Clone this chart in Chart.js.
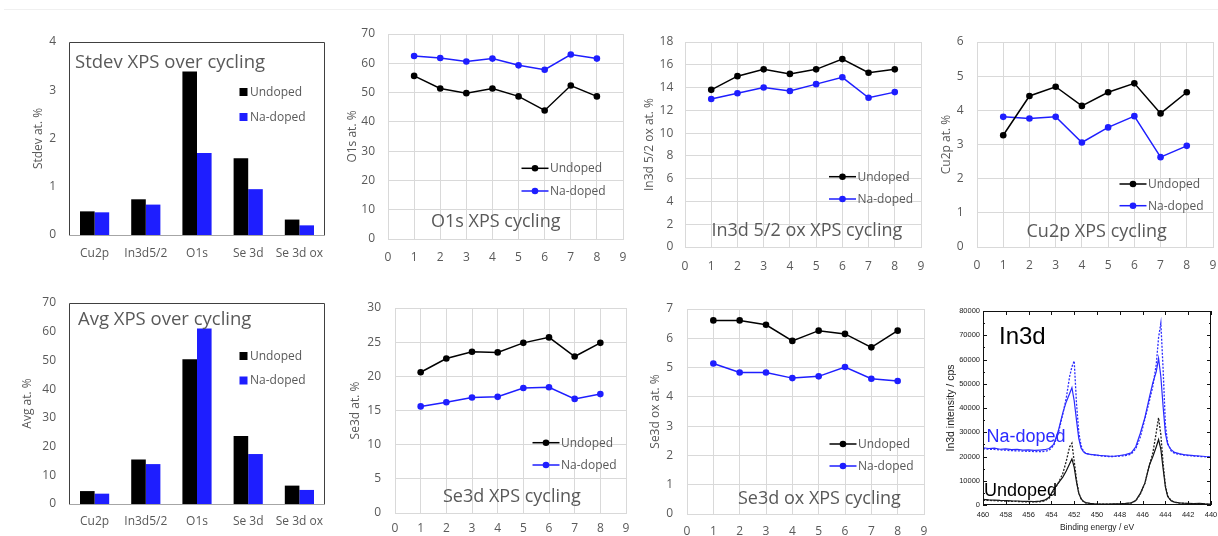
<!DOCTYPE html>
<html>
<head>
<meta charset="utf-8">
<script src="https://cdn.jsdelivr.net/npm/chart.js@4.4.1/dist/chart.umd.min.js"></script>
<style>
  html, body { margin: 0; padding: 0; background: #fff; width: 1218px; height: 536px; overflow: hidden; position: relative; }
  canvas { position: absolute; }
  #topRule { position: absolute; left: 4px; top: 9px; width: 1214px; height: 1px; background: #f0f0f0; }
</style>
</head>
<body>
<div id="topRule"></div>
<canvas id="cStdev"></canvas>
<canvas id="cAvg"></canvas>
<canvas id="cO1s"></canvas>
<canvas id="cIn3d"></canvas>
<canvas id="cCu2p"></canvas>
<canvas id="cSe3d"></canvas>
<canvas id="cSe3dOx"></canvas>
<canvas id="cSpec"></canvas>
<script>
// ---- summary over cycling ----
const elements = ['Cu2p', 'In3d5/2', 'O1s', 'Se 3d', 'Se 3d ox'];
const stdevUndoped = [0.49, 0.74, 3.39, 1.59, 0.32];
const stdevNaDoped = [0.47, 0.63, 1.70, 0.95, 0.20];
const avgUndoped = [4.5, 15.5, 50.4, 23.7, 6.4];
const avgNaDoped = [3.6, 13.9, 61.1, 17.4, 4.9];

// ---- per-cycle atomic percentages ----
const cycles = [1, 2, 3, 4, 5, 6, 7, 8];
const o1sUndoped = [55.7, 51.4, 49.8, 51.4, 48.7, 43.9, 52.4, 48.7];
const o1sNaDoped = [62.5, 61.8, 60.6, 61.6, 59.3, 57.8, 63.0, 61.6];
const in3dUndoped = [13.8, 15.0, 15.6, 15.2, 15.6, 16.5, 15.3, 15.6];
const in3dNaDoped = [13.0, 13.5, 14.0, 13.7, 14.3, 14.9, 13.1, 13.6];
const cu2pUndoped = [3.27, 4.42, 4.69, 4.13, 4.53, 4.79, 3.91, 4.53];
const cu2pNaDoped = [3.81, 3.76, 3.81, 3.06, 3.50, 3.83, 2.63, 2.96];
const se3dUndoped = [20.6, 22.6, 23.6, 23.5, 24.9, 25.7, 22.9, 24.9];
const se3dNaDoped = [15.6, 16.2, 16.9, 17.0, 18.3, 18.4, 16.7, 17.4];
const se3dOxUndoped = [6.61, 6.61, 6.46, 5.91, 6.26, 6.15, 5.69, 6.26];
const se3dOxNaDoped = [5.14, 4.83, 4.83, 4.64, 4.70, 5.02, 4.62, 4.54];

// ---- In3d spectra (binding energy in eV, intensity in cps) ----
const bindingEnergy = [460, 459.5, 459, 458.5, 458, 457.5, 457, 456.5, 456, 455.5,
  455, 454.6, 454.2, 453.8, 453.4, 453.0, 452.7, 452.4, 452.2, 452.0,
  451.8, 451.6, 451.4, 451.2, 451.0, 450.6, 450.2, 449.8, 449.4, 449.0,
  448.5, 448.0, 447.5, 447.0, 446.6, 446.2, 445.8, 445.4, 445.1, 444.8,
  444.6, 444.4, 444.2, 444.0, 443.8, 443.5, 443.2, 442.8, 442.4, 442.0,
  441.5, 441.0, 440.5, 440.0];
const naDopedSolid = [23600, 23300, 23450, 23000, 23150, 22800, 22950, 22600, 22750, 22500,
  22650, 22800, 23300, 25000, 30500, 38000, 42500, 46000, 48400, 43000,
  35000, 27500, 23500, 22000, 21300, 20900, 20700, 20450, 20300, 20150,
  20100, 20400, 20800, 21500, 24000, 29600, 36000, 44500, 50500, 55000,
  60500, 53000, 40500, 29500, 25000, 22800, 21700, 21200, 20800, 20600,
  20350, 20200, 20000, 19900];
const naDopedDashed = [23200, 23000, 22900, 22700, 22600, 22400, 22350, 22200, 22150, 22050,
  22000, 22100, 22600, 24500, 29500, 37500, 44000, 53000, 57000, 59400,
  42000, 30000, 24500, 22300, 21300, 20900, 20600, 20350, 20150, 20000,
  20000, 20150, 20400, 21000, 23200, 28000, 35500, 43000, 49000, 58000,
  69000, 75000, 56000, 33000, 25500, 22300, 21300, 20900, 20600, 20400,
  20200, 20000, 19900, 19800];
const undopedSolid = [2300, 2100, 2050, 1900, 1850, 1700, 1650, 1500, 1550, 1400,
  1600, 2000, 3200, 6500, 9000, 11500, 14000, 17000, 19000, 15500,
  9500, 4800, 2600, 1500, 1000, 700, 500, 400, 350, 400,
  450, 500, 650, 900, 1800, 4800, 9000, 16500, 20000, 24000,
  27000, 23000, 15000, 7500, 3500, 1800, 1200, 900, 750, 650,
  550, 650, 450, 350];
const undopedDashed = [2000, 1900, 1800, 1700, 1600, 1500, 1450, 1350, 1300, 1250,
  1350, 1700, 2800, 6000, 9000, 13000, 18000, 24000, 25500, 18000,
  10500, 5000, 2600, 1400, 900, 550, 400, 300, 300, 300,
  350, 400, 550, 800, 1700, 4500, 9000, 16500, 21500, 30000,
  36000, 29000, 17000, 8000, 3800, 1800, 1100, 800, 650, 550,
  500, 550, 400, 300];

// ---- styling ----
const FONT = '"Open Sans", "Noto Sans", sans-serif';
const ARIAL = '"Liberation Sans", Arial, sans-serif';
const NARROW = '"Liberation Sans Narrow", "Liberation Sans", Arial, sans-serif';
const GRAY = '#595959';
const GRID = '#d9d9d9';
const BLACK = '#000000';
const BLUE = '#1e1eff';
const SPEC_BLUE = '#2b2bff';

Chart.defaults.font.family = FONT;
Chart.defaults.color = GRAY;
Chart.defaults.animation = false;

// page-space layout of each panel: canvas box and plot area
const panels = {
  stdev:  { box: { L: 0,   T: 30,  R: 335,  B: 270 }, plot: { l: 69,  t: 42,  r: 325,  b: 235 }, yTitleX: 38.5 },
  avg:    { box: { L: 0,   T: 290, R: 335,  B: 536 }, plot: { l: 69,  t: 303, r: 325,  b: 504 }, yTitleX: 28 },
  o1s:    { box: { L: 335, T: 20,  R: 630,  B: 275 }, plot: { l: 388, t: 34,  r: 623,  b: 239 }, yTitleX: 353 },
  in3d:   { box: { L: 630, T: 20,  R: 928,  B: 275 }, plot: { l: 685, t: 42,  r: 921,  b: 247 }, yTitleX: 649.5 },
  cu2p:   { box: { L: 928, T: 20,  R: 1218, B: 275 }, plot: { l: 977, t: 42,  r: 1213, b: 247 }, yTitleX: 946.5 },
  se3d:   { box: { L: 335, T: 290, R: 630,  B: 536 }, plot: { l: 395, t: 308, r: 626,  b: 513 }, yTitleX: 355.5 },
  se3dOx: { box: { L: 630, T: 290, R: 935,  B: 536 }, plot: { l: 687, t: 309, r: 924,  b: 514 }, yTitleX: 655.5 },
  spec:   { box: { L: 935, T: 290, R: 1218, B: 536 }, plot: { l: 983, t: 311, r: 1211, b: 505 }, yTitleX: 951 }
};

function zeroPad(s) { s.paddingLeft = 0; s.paddingRight = 0; s.paddingTop = 0; s.paddingBottom = 0; }

function mount(id, panel, config, yTitleSize) {
  const { box, plot } = panel;
  const cv = document.getElementById(id);
  cv.width = box.R - box.L;
  cv.height = box.B - box.T;
  cv.style.left = box.L + 'px';
  cv.style.top = box.T + 'px';
  const yW = plot.l - box.L;
  const xH = box.B - plot.b;
  config.options.responsive = false;
  config.options.maintainAspectRatio = false;
  config.options.devicePixelRatio = 1;
  config.options.layout = { padding: { left: 0, top: plot.t - box.T, right: box.R - plot.r, bottom: 0 } };
  const sx = config.options.scales.x, sy = config.options.scales.y;
  sx.afterFit = s => { s.height = xH; zeroPad(s); };
  sy.afterFit = s => { s.width = yW; zeroPad(s); };
  const lh = yTitleSize * 1.2;
  sy.title.padding = { top: panel.yTitleX - box.L - lh / 2, bottom: 0 };
  return new Chart(cv, config);
}

// text drawn at page coordinates inside a panel's canvas
function textLayer(box, items) {
  return {
    id: 'textLayer',
    afterDatasetsDraw(chart) {
      const ctx = chart.ctx;
      ctx.save();
      ctx.textAlign = 'left';
      ctx.textBaseline = 'alphabetic';
      items.forEach(it => {
        ctx.font = it.font;
        ctx.fillStyle = it.color;
        ctx.fillText(it.text, it.x - box.L, it.y - box.T);
      });
      ctx.restore();
    }
  };
}

// legend placed inside the plot area
function innerLegend(box, cfg) {
  return {
    id: 'innerLegend',
    afterDatasetsDraw(chart) {
      const ctx = chart.ctx;
      ctx.save();
      chart.data.datasets.forEach((ds, i) => {
        const y = cfg.rows[i] - box.T;
        if (cfg.kind === 'box') {
          ctx.fillStyle = ds.backgroundColor;
          ctx.fillRect(cfg.x0 - box.L, y - 4, 8, 8);
        } else {
          const x0 = cfg.x0 - box.L, x1 = cfg.x1 - box.L;
          ctx.strokeStyle = ds.borderColor;
          ctx.lineWidth = ds.borderWidth;
          ctx.beginPath();
          ctx.moveTo(x0, y);
          ctx.lineTo(x1, y);
          ctx.stroke();
          ctx.fillStyle = ds.borderColor;
          ctx.beginPath();
          ctx.arc((x0 + x1) / 2, y, ds.pointRadius, 0, Math.PI * 2);
          ctx.fill();
        }
        ctx.font = '12px ' + FONT;
        ctx.fillStyle = GRAY;
        ctx.textAlign = 'left';
        ctx.textBaseline = 'middle';
        ctx.fillText(ds.label, cfg.textX - box.L, y + 0.5);
      });
      ctx.restore();
    }
  };
}

// outline of the bar chart plot area
const barFrame = {
  id: 'barFrame',
  afterDatasetsDraw(chart) {
    const { left, top, right, bottom } = chart.chartArea;
    const ctx = chart.ctx;
    ctx.save();
    ctx.lineWidth = 1;
    ctx.strokeStyle = '#404040';
    ctx.beginPath();
    ctx.moveTo(left + 0.5, bottom);
    ctx.lineTo(left + 0.5, top + 0.5);
    ctx.lineTo(right - 0.5, top + 0.5);
    ctx.lineTo(right - 0.5, bottom);
    ctx.stroke();
    ctx.strokeStyle = '#a6a6a6';
    ctx.beginPath();
    ctx.moveTo(left, bottom + 0.5);
    ctx.lineTo(right, bottom + 0.5);
    ctx.stroke();
    ctx.restore();
  }
};

// boxed frame with inward ticks for the spectrum
const specFrame = {
  id: 'specFrame',
  afterDatasetsDraw(chart) {
    const { left, top, right, bottom } = chart.chartArea;
    const ctx = chart.ctx, xs = chart.scales.x, ys = chart.scales.y;
    ctx.save();
    ctx.strokeStyle = '#111';
    ctx.lineWidth = 1;
    ctx.strokeRect(left + 0.5, top + 0.5, right - left - 1, bottom - top - 1);
    ctx.beginPath();
    xs.ticks.forEach(t => {
      const px = Math.round(xs.getPixelForValue(t.value)) + 0.5;
      ctx.moveTo(px, bottom); ctx.lineTo(px, bottom - 4);
      ctx.moveTo(px, top); ctx.lineTo(px, top + 4);
    });
    const minorStep = ys.ticks.length > 1 ? (ys.ticks[1].value - ys.ticks[0].value) / 2 : 0;
    for (let v = ys.min; minorStep && v <= ys.max; v += minorStep) {
      const py = Math.round(ys.getPixelForValue(v)) + 0.5;
      const len = Math.round(v / minorStep) % 2 === 0 ? 4 : 2;
      ctx.moveTo(left, py); ctx.lineTo(left + len, py);
      ctx.moveTo(right, py); ctx.lineTo(right - len, py);
    }
    ctx.stroke();
    ctx.restore();
  }
};

function barChart(id, panel, undoped, naDoped, yMax, yStep, yTitle, title, legendRows) {
  const box = panel.box;
  return mount(id, panel, {
    type: 'bar',
    data: {
      labels: elements,
      datasets: [
        { label: 'Undoped', data: undoped, backgroundColor: BLACK, borderWidth: 0 },
        { label: 'Na-doped', data: naDoped, backgroundColor: BLUE, borderWidth: 0 }
      ]
    },
    options: {
      plugins: { legend: { display: false }, tooltip: { enabled: false } },
      datasets: { bar: { barPercentage: 1.0, categoryPercentage: 0.57 } },
      scales: {
        x: {
          grid: { display: false, drawTicks: false },
          border: { display: false },
          ticks: { font: { size: 12 }, color: GRAY, padding: legendRows.xPad, maxRotation: 0, autoSkip: false }
        },
        y: {
          min: 0, max: yMax,
          grid: { display: false, drawTicks: false },
          border: { display: false },
          ticks: { stepSize: yStep, font: { size: 12 }, color: GRAY, padding: 13 },
          title: { display: true, text: yTitle, font: { size: 12 }, color: GRAY }
        }
      }
    },
    plugins: [barFrame,
      innerLegend(box, { kind: 'box', x0: 239.5, textX: 250, rows: legendRows.rows }),
      textLayer(box, [{ text: title.text, x: title.x, y: title.y, font: '18.5px ' + FONT, color: GRAY }])]
  }, 12);
}

function lineChart(id, panel, undoped, naDoped, yMax, yStep, yTitle, title, legend, xPad, yPad) {
  const box = panel.box;
  const pts = vals => cycles.map((c, i) => ({ x: c, y: vals[i] }));
  const series = (label, vals, color) => ({
    label, data: pts(vals), showLine: true, borderColor: color, backgroundColor: color,
    borderWidth: 1.5, pointRadius: 3.3, pointBorderWidth: 0, pointBackgroundColor: color, tension: 0
  });
  return mount(id, panel, {
    type: 'scatter',
    data: { datasets: [series('Undoped', undoped, BLACK), series('Na-doped', naDoped, BLUE)] },
    options: {
      plugins: { legend: { display: false }, tooltip: { enabled: false } },
      scales: {
        x: {
          type: 'linear', min: 0, max: 9,
          grid: { color: GRID, drawTicks: false },
          border: { color: GRID },
          ticks: { stepSize: 1, font: { size: 12 }, color: GRAY, padding: xPad }
        },
        y: {
          min: 0, max: yMax,
          grid: { color: GRID, drawTicks: false },
          border: { color: GRID },
          ticks: { stepSize: yStep, font: { size: 12 }, color: GRAY, padding: yPad },
          title: { display: true, text: yTitle, font: { size: 12 }, color: GRAY }
        }
      }
    },
    plugins: [
      innerLegend(box, { kind: 'line', x0: legend.x0, x1: legend.x0 + 27, textX: legend.x0 + 28.5, rows: legend.rows }),
      textLayer(box, [{ text: title.text, x: title.x, y: title.y, font: '18px ' + FONT, color: GRAY }])]
  }, 12);
}

barChart('cStdev', panels.stdev, stdevUndoped, stdevNaDoped, 4, 1, 'Stdev at. %',
  { text: 'Stdev XPS over cycling', x: 75, y: 67.7 }, { rows: [92, 117], xPad: 11.8 });
barChart('cAvg', panels.avg, avgUndoped, avgNaDoped, 70, 10, 'Avg at. %',
  { text: 'Avg XPS over cycling', x: 78, y: 325 }, { rows: [356, 380.5], xPad: 10.8 });

lineChart('cO1s', panels.o1s, o1sUndoped, o1sNaDoped, 70, 10, 'O1s at. %',
  { text: 'O1s XPS cycling', x: 431, y: 227.3 }, { x0: 521.5, rows: [168.3, 191] }, 11.8, 13);
lineChart('cIn3d', panels.in3d, in3dUndoped, in3dNaDoped, 18, 2, 'In3d 5/2 ox at. %',
  { text: 'In3d 5/2 ox XPS cycling', x: 711.5, y: 236 }, { x0: 829, rows: [176.7, 199] }, 12, 11.7);
lineChart('cCu2p', panels.cu2p, cu2pUndoped, cu2pNaDoped, 6, 1, 'Cu2p at. %',
  { text: 'Cu2p XPS cycling', x: 1026.5, y: 236.7 }, { x0: 1119.5, rows: [184, 205.7] }, 11, 13.4);
lineChart('cSe3d', panels.se3d, se3dUndoped, se3dNaDoped, 30, 5, 'Se3d at. %',
  { text: 'Se3d XPS cycling', x: 443, y: 501.7 }, { x0: 532.5, rows: [442.7, 465] }, 8.1, 14);
lineChart('cSe3dOx', panels.se3dOx, se3dOxUndoped, se3dOxNaDoped, 7, 1, 'Se3d ox at. %',
  { text: 'Se3d ox XPS cycling', x: 738, y: 504 }, { x0: 829.5, rows: [444, 466] }, 10.5, 14);

// In3d core-level spectra
(function () {
  const panel = panels.spec, box = panel.box;
  const pts = vals => bindingEnergy.map((e, i) => ({ x: e, y: vals[i] }));
  const curve = (label, vals, color, dashed) => ({
    label, data: pts(vals), showLine: true, borderColor: color, backgroundColor: color,
    borderWidth: dashed ? 1.3 : 1.2, borderDash: dashed ? [2, 1.5] : [], pointRadius: 0, tension: 0
  });
  const xTitleSize = 8.5;
  mount('cSpec', panel, {
    type: 'scatter',
    data: {
      datasets: [
        curve('Na-doped', naDopedDashed, SPEC_BLUE, true),
        curve('Na-doped', naDopedSolid, SPEC_BLUE, false),
        curve('Undoped', undopedDashed, '#222', true),
        curve('Undoped', undopedSolid, '#111', false)
      ]
    },
    options: {
      plugins: { legend: { display: false }, tooltip: { enabled: false } },
      scales: {
        x: {
          type: 'linear', min: 440, max: 460, reverse: true,
          grid: { display: false, drawTicks: false },
          border: { display: false },
          ticks: { stepSize: 2, font: { size: 7.5, family: NARROW }, color: '#222', padding: 5.3 },
          title: { display: true, text: 'Binding energy / eV', font: { size: xTitleSize, family: ARIAL }, color: '#222',
                   padding: { top: 0, bottom: 2.8 } }
        },
        y: {
          min: 0, max: 80000,
          grid: { display: false, drawTicks: false },
          border: { display: false },
          ticks: { stepSize: 10000, font: { size: 7.5, family: ARIAL }, color: '#222', padding: 3, callback: v => String(v) },
          title: { display: true, text: 'In3d intensity / cps', font: { size: 10.5, family: ARIAL }, color: '#222' }
        }
      }
    },
    plugins: [specFrame, textLayer(box, [
      { text: 'In3d', x: 999, y: 344, font: '24px ' + ARIAL, color: '#000' },
      { text: 'Na-doped', x: 986.5, y: 442, font: '18px ' + ARIAL, color: SPEC_BLUE },
      { text: 'Undoped', x: 984, y: 496, font: '18px ' + ARIAL, color: '#000' }
    ])]
  }, 10.5);
})();
</script>
</body>
</html>
